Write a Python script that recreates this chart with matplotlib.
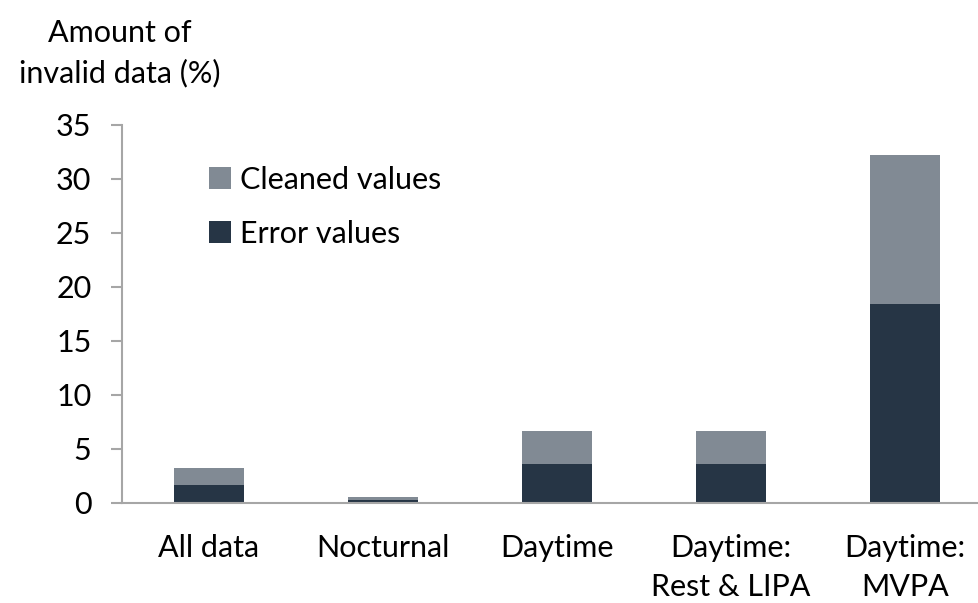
import numpy as np
import matplotlib.pyplot as plt

plt.rcParams['font.family'] = ['Lato', 'DejaVu Sans']

# Values (%)
categories = ["All data", "Nocturnal", "Daytime", "Daytime:\nRest & LIPA", "Daytime:\nMVPA"]
error_vals = [1.7, 0.3, 3.6, 3.6, 18.4]
total_vals = [3.2, 0.6, 6.7, 6.7, 32.2]
cleaned_vals = [t - e for t, e in zip(total_vals, error_vals)]

dark = "#263545"
grey = "#818a94"
axis_col = "#a6a6a6"
fs = 22

fig = plt.figure(figsize=(9.79, 6.03), dpi=100)
ax = fig.add_axes([122 / 979, 100 / 603, 1 - 122 / 979, 378 / 603])

x = np.arange(len(categories))
ax.bar(x, error_vals, width=0.4, color=dark, label="Error values")
ax.bar(x, cleaned_vals, width=0.4, bottom=error_vals, color=grey, label="Cleaned values")

ax.set_xlim(-0.5, -0.5 + 857 / 174)
ax.set_ylim(0, 35)
ax.set_yticks(range(0, 36, 5))
ax.set_xticks(x)
ax.set_xticklabels(categories)

for s in ["top", "right"]:
    ax.spines[s].set_visible(False)
for s in ["left", "bottom"]:
    ax.spines[s].set_color(axis_col)
    ax.spines[s].set_linewidth(1.5)

ax.tick_params(axis="y", length=8, width=1.5, color=axis_col, labelsize=fs, pad=14)
ax.tick_params(axis="x", length=0, labelsize=fs, pad=22)
for lab in ax.get_xticklabels():
    lab.set_linespacing(1.5)

handles, labels = ax.get_legend_handles_labels()
ax.legend(handles[::-1], labels[::-1], loc="upper left", bbox_to_anchor=(0.07, 0.965),
          frameon=False, fontsize=fs, handlelength=0.7, handleheight=0.7,
          handletextpad=0.3, labelspacing=0.85)

fig.text(120 / 979, 1 - 53 / 603, "Amount of\ninvalid data (%)", ha="center", va="center",
         fontsize=fs, linespacing=1.5)

fig.savefig("out.png", dpi=100)
